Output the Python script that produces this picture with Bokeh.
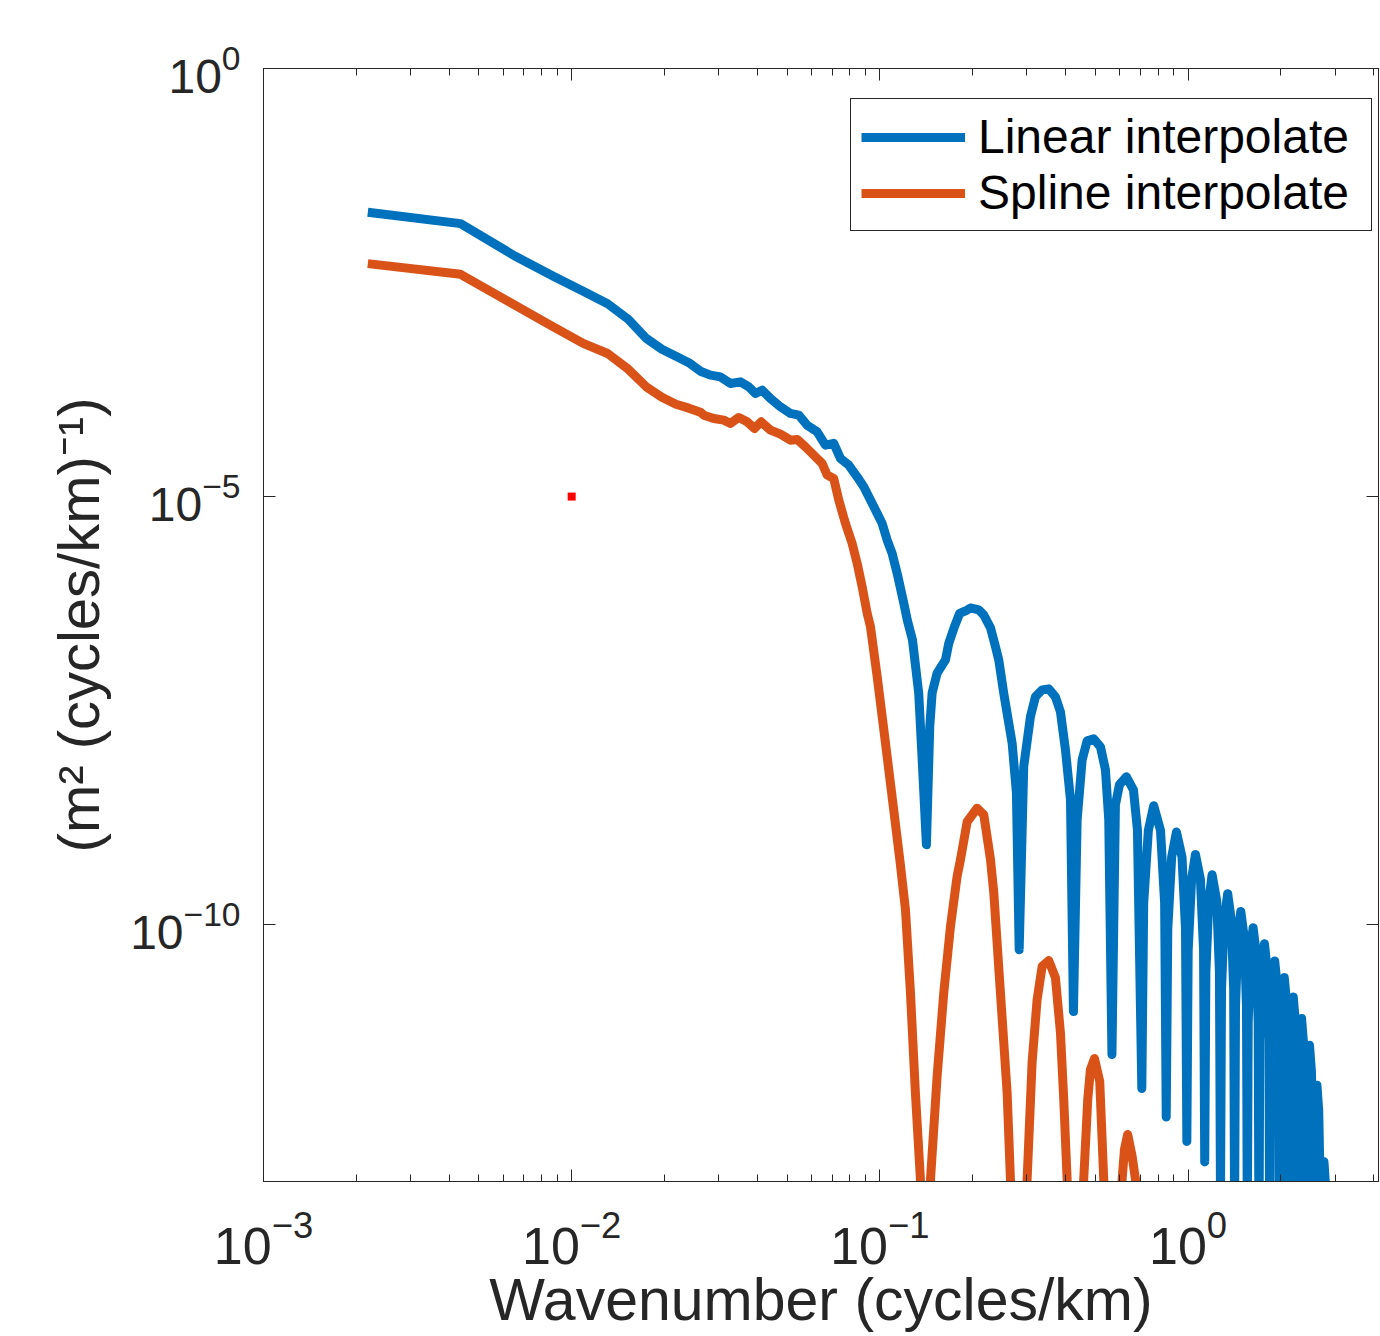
import numpy as np
from bokeh.plotting import figure
from bokeh.models import (Range1d, FixedTicker, LogAxis, Legend, LegendItem,
                          CustomJSTickFormatter, LogTickFormatter)
from bokeh.embed import file_html
from bokeh.resources import INLINE

# ---------------- data ----------------
# wavenumber (cycles/km) and log10 of spectral density for each series
linear_k = [
    0.00218, 0.00436, 0.00654, 0.00872, 0.0109, 0.01308, 0.01526, 0.01744, 0.01962, 0.0218,
    0.0240, 0.02616, 0.02821, 0.03040, 0.03276, 0.03529, 0.03756, 0.03948, 0.04149, 0.04416,
    0.04758, 0.05128, 0.05456, 0.05808, 0.06259, 0.06660, 0.07085, 0.07449, 0.07925, 0.08439,
    0.08867, 0.09322, 0.09802, 0.1017, 0.1056, 0.1096, 0.1138, 0.1196, 0.1227, 0.1276,
    0.1337, 0.1372, 0.1416,
    0.1452, 0.1478, 0.1534, 0.1633, 0.1674, 0.1746, 0.1816, 0.1920, 0.1968, 0.2094,
    0.2174, 0.2286, 0.2372, 0.2431, 0.2523, 0.2687, 0.2774, 0.2832,
    0.2930, 0.3081, 0.3199, 0.3362, 0.3532, 0.3713, 0.3855, 0.4002, 0.4155, 0.4248,
    0.4367, 0.4533, 0.4705, 0.4943, 0.5197, 0.5395, 0.5530, 0.5664,
    0.5813, 0.5990, 0.6311, 0.6650, 0.6852, 0.7080,
    0.718, 0.7434, 0.7738, 0.8142, 0.8396, 0.8496,
    0.8596, 0.885, 0.9171, 0.956, 0.9812, 0.9912,
    1.0012, 1.027, 1.057, 1.097, 1.1228, 1.1328,
    1.1428, 1.168, 1.197, 1.239, 1.2644, 1.2744,
    1.2844, 1.310, 1.345, 1.381, 1.406, 1.416,
    1.426, 1.451, 1.483, 1.522, 1.5476, 1.5576,
    1.5676, 1.593, 1.626, 1.664, 1.6892, 1.6992,
    1.7092, 1.735, 1.770, 1.806, 1.8308, 1.8408,
    1.8508, 1.876, 1.911, 1.947, 1.9724, 1.9824,
    1.9924, 2.018, 2.053, 2.089, 2.114, 2.124,
    2.134, 2.159, 2.195, 2.230, 2.2556, 2.2656,
    2.2756, 2.301, 2.336, 2.372, 2.3972, 2.4072,
    2.4172, 2.443, 2.478, 2.514, 2.5388, 2.5488,
    2.5588, 2.584, 2.620, 2.655, 2.6804, 2.6904,
    2.7004, 2.726, 2.761, 2.797, 2.822, 2.832,
]
linear_log_psd = [
    -1.680, -1.812, -2.190, -2.426, -2.602, -2.748, -2.929, -3.151, -3.279, -3.361,
    -3.436, -3.536, -3.582, -3.602, -3.679, -3.660, -3.719, -3.796, -3.757, -3.854,
    -3.952, -4.029, -4.049, -4.166, -4.244, -4.399, -4.379, -4.554, -4.632, -4.769,
    -4.886, -5.041, -5.196, -5.313, -5.508, -5.663, -5.896, -6.246, -6.441, -6.674,
    -7.296, -8.075, -9.067,
    -7.686, -7.293, -7.063, -6.908, -6.713, -6.519, -6.363, -6.325, -6.301, -6.324,
    -6.383, -6.534, -6.753, -6.908, -7.296, -7.880, -8.460, -10.292,
    -8.153, -7.569, -7.336, -7.258, -7.246, -7.340, -7.515, -7.958, -8.541, -11.015,
    -8.775, -8.075, -7.853, -7.830, -7.923, -8.191, -8.775, -11.517,
    -8.600, -8.366, -8.273, -8.425, -8.891, -11.914,
    -9.75, -8.90, -8.611, -8.90, -9.75, -12.246,
    -10.05, -9.21, -8.918, -9.21, -10.05, -12.532,
    -10.30, -9.47, -9.180, -9.47, -10.30, -12.771,
    -10.55, -9.72, -9.417, -9.72, -10.55, -13.2,
    -10.75, -9.94, -9.638, -9.94, -10.75, -13.4,
    -10.95, -10.15, -9.845, -10.15, -10.95, -13.6,
    -11.15, -10.33, -10.035, -10.33, -11.15, -13.8,
    -11.35, -10.52, -10.222, -10.52, -11.35, -14.0,
    -11.55, -10.72, -10.424, -10.72, -11.55, -14.2,
    -11.75, -10.92, -10.618, -10.92, -11.75, -14.4,
    -11.95, -11.14, -10.844, -11.14, -11.95, -14.6,
    -12.20, -11.40, -11.097, -11.40, -12.20, -14.8,
    -12.50, -11.71, -11.408, -11.71, -12.50, -15.0,
    -12.95, -12.17, -11.875, -12.17, -12.95, -15.2,
    -13.85, -13.07, -12.769, -13.07, -13.85, -15.4,
]

spline_k = [
    0.00218, 0.00436, 0.00654, 0.00872, 0.0109, 0.01308, 0.01526, 0.01744, 0.01962, 0.0218,
    0.0240, 0.02616, 0.02683, 0.02892, 0.03115, 0.03276, 0.03485, 0.03710, 0.03917, 0.04118,
    0.04416, 0.04758, 0.05128, 0.05391, 0.05735, 0.06102, 0.06498, 0.06745, 0.07085, 0.07356,
    0.07732, 0.08128, 0.08439, 0.08762, 0.09095, 0.09322, 0.09802, 0.1043, 0.1109, 0.1166,
    0.1211, 0.1257, 0.1304, 0.1354, 0.1416,
    0.1460, 0.1534, 0.1612, 0.1695, 0.1781, 0.1826, 0.1920, 0.2068, 0.2174, 0.2286,
    0.2343, 0.2462, 0.2588, 0.2653, 0.2832,
    0.3005, 0.3119, 0.3238, 0.3362, 0.3532, 0.3713, 0.3855, 0.3951, 0.4052, 0.4248,
    0.4587, 0.4727, 0.4823, 0.4970, 0.5170, 0.5327, 0.5664,
    0.6112, 0.6219, 0.6370, 0.6586, 0.6752, 0.7080,
]
spline_log_psd = [
    -2.279, -2.404, -2.764, -3.018, -3.211, -3.329, -3.512, -3.716, -3.839, -3.921,
    -3.967, -4.014, -4.049, -4.088, -4.107, -4.146, -4.076, -4.127, -4.204, -4.127,
    -4.224, -4.271, -4.341, -4.333, -4.419, -4.516, -4.613, -4.749, -4.788, -5.041,
    -5.313, -5.546, -5.779, -6.053, -6.363, -6.519, -7.103, -7.880, -8.658, -9.300,
    -9.825, -10.797, -11.960, -12.975, -15.0,
    -12.975, -11.770, -10.797, -10.020, -9.436, -9.242, -8.798, -8.640, -8.716, -9.242,
    -9.630, -10.797, -11.960, -12.975, -15.5,
    -12.975, -11.610, -10.875, -10.487, -10.420, -10.618, -11.264, -12.042, -12.975, -16.0,
    -12.975, -12.042, -11.692, -11.564, -11.832, -12.975, -16.0,
    -12.975, -12.625, -12.450, -12.707, -12.975, -16.5,
]

marker_k = [0.01]
marker_psd = [1e-5]

series_names = ["Linear interpolate", "Spline interpolate"]
series_colors = ["#0072BD", "#D95319"]

x_major = [1e-3, 1e-2, 1e-1, 1e0]
x_minor = [m * d for d in (1e-3, 1e-2, 1e-1) for m in range(2, 10)] + [2.0, 3.0, 4.0]
y_major = [1e-10, 1e-5, 1e0]
x_lim = (1e-3, 4.15)
y_lim = (1e-13, 1.0)

x_title = "Wavenumber (cycles/km)"
y_title = "(m\u00b2 (cycles/km)\u207b\u00b9)"

FONT = "Liberation Sans"
AX = "#262626"

# ---------------- figure ----------------
p = figure(width=1380, height=1336, x_axis_type="log", y_axis_type="log",
           x_range=Range1d(*x_lim), y_range=Range1d(*y_lim),
           output_backend="svg", toolbar_location=None,
           min_border_left=263, min_border_right=2, min_border_top=68, min_border_bottom=155)
p.grid.visible = False
p.background_fill_color = "white"
p.border_fill_color = "white"
p.outline_line_color = AX
p.outline_line_width = 1


def style_axis(ax, ticker):
    ax.ticker = ticker
    ax.major_tick_in = 12
    ax.major_tick_out = 0
    ax.minor_tick_in = 7
    ax.minor_tick_out = 0
    ax.axis_line_color = AX
    ax.major_tick_line_color = AX
    ax.minor_tick_line_color = AX
    ax.major_label_text_color = AX
    ax.major_label_text_font = FONT
    ax.axis_label_text_font = FONT
    ax.axis_label_text_color = AX
    ax.axis_label_text_font_style = "normal"


def blank_axis(ax):
    ax.formatter = CustomJSTickFormatter(code="return ''")
    ax.major_label_standoff = 0
    ax.major_label_text_font_size = "0px"
    ax.axis_label = None


# bottom axis
xa = p.xaxis[0]
style_axis(xa, FixedTicker(ticks=x_major, minor_ticks=x_minor))
xa.formatter = LogTickFormatter()
xa.major_label_text_font_size = "52px"
xa.major_label_standoff = 29
xa.axis_label = x_title
xa.axis_label_text_font_size = "59px"
xa.axis_label_standoff = 0

# left axis
ya = p.yaxis[0]
style_axis(ya, FixedTicker(ticks=y_major, minor_ticks=[]))
ya.formatter = LogTickFormatter()
ya.major_label_text_font_size = "48px"
ya.major_label_standoff = 23
ya.axis_label = y_title
ya.axis_label_text_font_size = "58px"
ya.axis_label_standoff = 16

# box axes (top / right)
top_ax = LogAxis()
right_ax = LogAxis()
style_axis(top_ax, FixedTicker(ticks=x_major, minor_ticks=x_minor))
style_axis(right_ax, FixedTicker(ticks=y_major, minor_ticks=[]))
blank_axis(top_ax)
blank_axis(right_ax)
p.add_layout(top_ax, "above")
p.add_layout(right_ax, "right")

renderers = []
for k, lg, col in [(linear_k, linear_log_psd, series_colors[0]),
                   (spline_k, spline_log_psd, series_colors[1])]:
    psd = 10.0 ** np.array(lg)
    r = p.line(np.array(k), psd, line_color=col, line_width=9, line_join="round")
    renderers.append(r)

p.scatter(marker_k, marker_psd, marker="square", size=8, fill_color="#FF0000",
          line_color=None)

legend = Legend(items=[LegendItem(label=n, renderers=[r]) for n, r in zip(series_names, renderers)],
                location=(587, 950), glyph_width=104, glyph_height=50, label_height=50,
                label_width=383, label_standoff=13, padding=10, spacing=1, margin=0,
                label_text_font=FONT, label_text_font_size="48px", label_text_color="black",
                border_line_color=AX, border_line_width=1, border_line_alpha=1.0,
                background_fill_color="white", background_fill_alpha=1.0)
p.add_layout(legend)

open("out.html", "w").write(file_html(p, INLINE))
